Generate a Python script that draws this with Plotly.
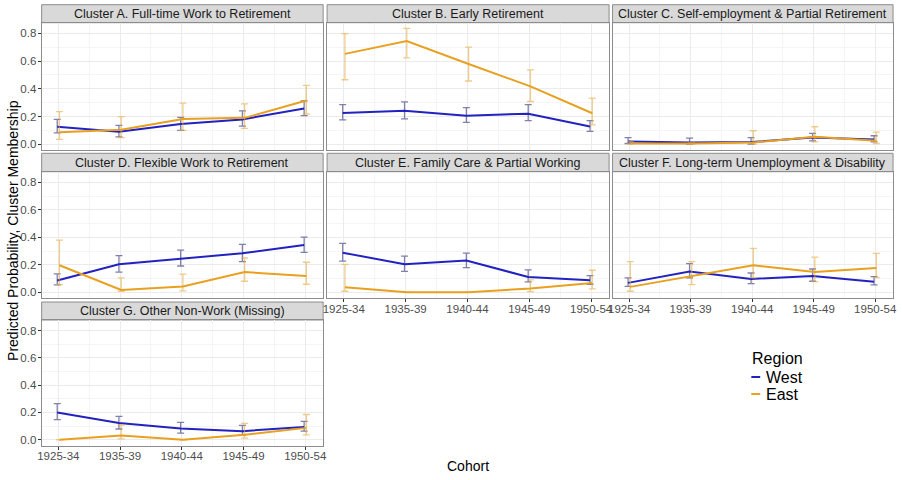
import plotly.graph_objects as go

# Cohort categories on the x axis
cohorts = ["1925-34", "1935-39", "1940-44", "1945-49", "1950-54"]

clusters = ["A", "B", "C", "D", "E", "F", "G"]
cluster_titles = [
    "Cluster A. Full-time Work to Retirement",
    "Cluster B. Early Retirement",
    "Cluster C. Self-employment & Partial Retirement",
    "Cluster D. Flexible Work to Retirement",
    "Cluster E. Family Care & Partial Working",
    "Cluster F. Long-term Unemployment & Disability",
    "Cluster G. Other Non-Work (Missing)",
]

# Predicted probabilities with confidence bounds, West Germany
west_mean = {
    "A": [0.126, 0.090, 0.145, 0.179, 0.257],
    "B": [0.225, 0.242, 0.206, 0.220, 0.128],
    "C": [0.019, 0.012, 0.015, 0.048, 0.034],
    "D": [0.085, 0.203, 0.244, 0.283, 0.343],
    "E": [0.288, 0.203, 0.230, 0.111, 0.087],
    "F": [0.068, 0.150, 0.097, 0.118, 0.077],
    "G": [0.200, 0.123, 0.082, 0.063, 0.094],
}
west_lo = {
    "A": [0.082, 0.053, 0.100, 0.130, 0.206],
    "B": [0.175, 0.182, 0.158, 0.170, 0.092],
    "C": [0.005, 0.000, 0.000, 0.024, 0.017],
    "D": [0.053, 0.147, 0.191, 0.222, 0.290],
    "E": [0.227, 0.152, 0.179, 0.075, 0.058],
    "F": [0.043, 0.104, 0.063, 0.080, 0.053],
    "G": [0.147, 0.079, 0.048, 0.034, 0.063],
}
west_hi = {
    "A": [0.179, 0.136, 0.194, 0.240, 0.313],
    "B": [0.286, 0.305, 0.264, 0.286, 0.170],
    "C": [0.048, 0.044, 0.048, 0.078, 0.061],
    "D": [0.133, 0.266, 0.307, 0.348, 0.401],
    "E": [0.355, 0.263, 0.285, 0.162, 0.121],
    "F": [0.104, 0.208, 0.140, 0.169, 0.114],
    "G": [0.264, 0.171, 0.127, 0.106, 0.135],
}

# Predicted probabilities with confidence bounds, East Germany
east_mean = {
    "A": [0.087, 0.104, 0.182, 0.190, 0.315],
    "B": [0.652, 0.744, 0.579, 0.417, 0.223],
    "C": [0.005, 0.005, 0.012, 0.053, 0.024],
    "D": [0.196, 0.017, 0.041, 0.147, 0.118],
    "E": [0.036, 0.000, 0.000, 0.027, 0.068],
    "F": [0.039, 0.116, 0.196, 0.147, 0.176],
    "G": [0.000, 0.031, 0.000, 0.036, 0.087],
}
east_lo = {
    "A": [0.034, 0.048, 0.100, 0.114, 0.218],
    "B": [0.465, 0.623, 0.456, 0.308, 0.140],
    "C": [0.000, 0.000, 0.000, 0.017, 0.005],
    "D": [0.056, 0.007, 0.010, 0.080, 0.058],
    "E": [0.007, 0.000, 0.000, 0.005, 0.024],
    "F": [0.007, 0.056, 0.104, 0.077, 0.106],
    "G": [0.000, 0.007, 0.000, 0.012, 0.036],
}
east_hi = {
    "A": [0.235, 0.199, 0.296, 0.291, 0.424],
    "B": [0.798, 0.836, 0.700, 0.536, 0.332],
    "C": [0.018, 0.010, 0.097, 0.126, 0.087],
    "D": [0.379, 0.104, 0.131, 0.249, 0.218],
    "E": [0.203, 0.000, 0.000, 0.090, 0.160],
    "F": [0.222, 0.222, 0.319, 0.256, 0.283],
    "G": [0.000, 0.108, 0.000, 0.120, 0.185],
}

regions = ["West", "East"]
line_colors = {"West": "#2222C0", "East": "#E8A020"}
bar_colors = {"West": "rgba(75,75,135,0.7)", "East": "rgba(228,170,60,0.6)"}
dodge = {"West": -0.018, "East": 0.018}
series = {
    "West": (west_mean, west_lo, west_hi),
    "East": (east_mean, east_lo, east_hi),
}

W, H = 902, 480
FONT = "Liberation Sans, Arial, sans-serif"
col_px = [(38, 322), (326, 610.5), (614, 897)]
row_px = [(22.7, 150), (171.7, 298), (320, 445.5)]
strip_px = [(4.7, 22.7), (153.3, 171.7), (302, 320)]
border = "#8C8C8C"
tick_font = dict(family=FONT, size=11.5, color="#4D4D4D")

fig = go.Figure()
shapes = []
annotations = []
layout_axes = {}

for i, key in enumerate(clusters):
    r, c = divmod(i, 3)
    n = i + 1
    sfx = "" if n == 1 else str(n)
    x0, x1 = col_px[c]
    y0, y1 = row_px[r]
    show_x = i in (4, 5, 6)
    show_y = c == 0

    layout_axes["xaxis" + sfx] = dict(
        domain=[x0 / W, x1 / W], anchor="y" + sfx, range=[0.73, 5.29],
        tickmode="array", tickvals=[1, 2, 3, 4, 5], ticktext=cohorts,
        showticklabels=show_x, ticks="outside" if show_x else "",
        ticklen=3, tickcolor="#333333", tickfont=tick_font,
        ticklabelstandoff=-3,
        showgrid=True, gridcolor="#EBEBEB", gridwidth=1,
        minor=dict(tickvals=[1.5, 2.5, 3.5, 4.5], showgrid=True,
                   gridcolor="#F5F5F5", gridwidth=0.6),
        zeroline=False, showline=True, mirror=True, linecolor=border, linewidth=1,
    )
    layout_axes["yaxis" + sfx] = dict(
        domain=[1 - y1 / H, 1 - y0 / H], anchor="x" + sfx, range=[-0.042, 0.877],
        tickmode="array", tickvals=[0, 0.2, 0.4, 0.6, 0.8],
        ticktext=["0.0", "0.2", "0.4", "0.6", "0.8"],
        showticklabels=show_y, ticks="outside" if show_y else "",
        ticklen=3, tickcolor="#333333", tickfont=tick_font,
        ticklabelstandoff=-1,
        showgrid=True, gridcolor="#EBEBEB", gridwidth=1,
        minor=dict(tickvals=[0.1, 0.3, 0.5, 0.7], showgrid=True,
                   gridcolor="#F5F5F5", gridwidth=0.6),
        zeroline=False, showline=True, mirror=True, linecolor=border, linewidth=1,
    )

    # facet strip
    s0, s1 = strip_px[r]
    shapes.append(dict(type="rect", xref="paper", yref="paper",
                       x0=x0 / W, x1=x1 / W, y0=1 - s1 / H, y1=1 - s0 / H,
                       fillcolor="#D9D9D9", line=dict(color=border, width=1),
                       layer="below"))
    annotations.append(dict(text=cluster_titles[i], xref="paper", yref="paper",
                            x=(x0 + x1) / 2 / W, y=1 - (s0 + s1) / 2 / H,
                            showarrow=False, xanchor="center", yanchor="middle",
                            font=dict(family=FONT, size=12.5, color="#1A1A1A")))

    for reg in regions:
        mean, lo, hi = (d[key] for d in series[reg])
        xs = [k + 1 + dodge[reg] for k in range(len(cohorts))]
        fig.add_trace(go.Scatter(
            x=xs, y=mean, mode="lines", name=reg, showlegend=False,
            line=dict(color=line_colors[reg], width=2),
            error_y=dict(type="data", symmetric=False,
                         array=[h - m for h, m in zip(hi, mean)],
                         arrayminus=[m - l for m, l in zip(mean, lo)],
                         color=bar_colors[reg], thickness=1.3, width=3.5),
            xaxis="x" + sfx, yaxis="y" + sfx,
        ))

# axis titles
annotations.append(dict(text="Predicted Probability, Cluster Membership",
                        xref="paper", yref="paper", x=9 / W, y=1 - 230 / H,
                        xanchor="center", yanchor="middle",
                        textangle=-90, showarrow=False,
                        font=dict(family=FONT, size=14, color="#000000")))
annotations.append(dict(text="Cohort", xref="paper", yref="paper",
                        x=468 / W, y=1 - 466 / H, xanchor="center", yanchor="middle",
                        showarrow=False,
                        font=dict(family=FONT, size=14, color="#000000")))

# legend
annotations.append(dict(text="Region", xref="paper", yref="paper",
                        x=753 / W, y=1 - 358 / H, xanchor="left", yanchor="middle",
                        showarrow=False,
                        font=dict(family=FONT, size=16, color="#000000")))
for j, reg in enumerate(regions):
    yc = 377 + j * 17
    shapes.append(dict(type="line", xref="paper", yref="paper",
                       x0=754 / W, x1=763 / W, y0=1 - yc / H, y1=1 - yc / H,
                       line=dict(color=line_colors[reg], width=2)))
    annotations.append(dict(text=reg, xref="paper", yref="paper",
                            x=767 / W, y=1 - yc / H, xanchor="left", yanchor="middle",
                            showarrow=False,
                            font=dict(family=FONT, size=16, color="#000000")))

fig.update_layout(
    width=W, height=H,
    margin=dict(l=0, r=0, t=0, b=0),
    paper_bgcolor="white", plot_bgcolor="white",
    shapes=shapes, annotations=annotations,
    showlegend=False,
    **layout_axes,
)

fig.write_html("out.html")
